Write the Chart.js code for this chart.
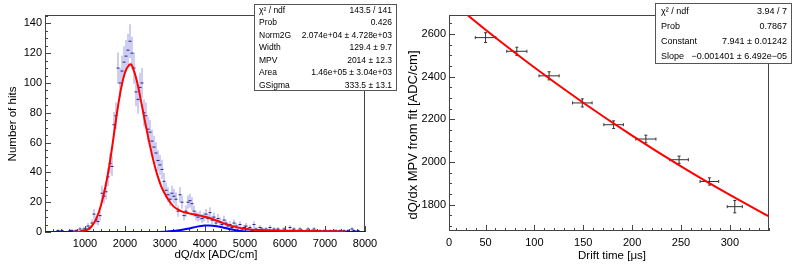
<!DOCTYPE html>
<html>
<head>
<meta charset="utf-8">
<script src="https://cdn.jsdelivr.net/npm/chart.js@4.4.1/dist/chart.umd.min.js"></script>
<style>
  html, body { margin: 0; padding: 0; background: #ffffff; }
  body { width: 805px; height: 267px; overflow: hidden; position: relative; }
  #cLeft  { position: absolute; left: 0;     top: 0; }
  #cRight { position: absolute; left: 400px; top: 0; }
</style>
</head>
<body>
<canvas id="cLeft"  width="400" height="267" style="width:400px;height:267px"></canvas>
<canvas id="cRight" width="405" height="267" style="width:405px;height:267px"></canvas>
<script>
// ================= LEFT PANEL DATA (dQ/dx histogram) =================
const binWidth = 50;          // ADC/cm per bin
const binStart = 0;           // first bin lower edge
const hitCounts = [
  0,0,0,0,0,0,1,0,1,0,
  0,0,1,1,0,1,0,2,1,2,
  2,4,3,6,12,8,7,11,26,24,
  27,37,46,44,72,78,110,100,108,114,
  118,122,128,120,110,94,89,97,100,80,
  78,69,67,61,57,53,48,45,42,34,
  28,25,22,26,24,22,14,25,20,11,
  14,20,21,19,14,11,10,11,9,10,
  12,9,13,8,10,6,9,7,5,8,
  6,4,5,3,6,4,3,5,2,3,
  4,2,3,1,5,2,1,3,2,1,
  2,1,3,1,2,1,2,1,0,2,
  1,0,3,1,2,0,1,2,1,0,
  1,2,0,1,2,1,0,1,0,1,
  1,0,1,0,1,1,0,1,0,1,
  0,1,0,2,1,0,1,0,0,0
];
// total fit (red)
const totalFitX = [700, 900, 1000, 1100, 1200, 1300, 1400, 1500, 1600, 1700, 1800, 1900, 2000, 2100, 2150, 2200, 2300, 2400, 2500, 2600, 2700, 2800, 2900, 3000, 3100, 3200, 3300, 3400, 3600, 3800, 4000, 4200, 4400, 4600, 4800, 5000, 5200, 5500, 6000, 6500, 7000, 7500];
const totalFitY = [0.1, 0.4, 1, 2, 5, 10, 18, 29, 43, 61, 80, 96, 107, 112, 112.5, 110, 101, 88, 74, 61, 49, 39, 31, 25.5, 21, 17.5, 15.5, 14, 12.5, 11.5, 10.2, 8.6, 6.5, 4.6, 3.1, 2.1, 1.5, 1.1, 0.8, 0.6, 0.5, 0.4];
// second gaussian component (blue)
const gausFitX = [0, 2600, 2800, 3000, 3200, 3400, 3600, 3800, 4000, 4100, 4200, 4400, 4600, 4800, 5000, 5200, 5400, 8000];
const gausFitY = [0, 0, 0.05, 0.2, 0.6, 1.3, 2.4, 3.6, 4.3, 4.4, 4.2, 3.3, 2.0, 1.0, 0.4, 0.1, 0, 0];
const xTicksLeft = [1000, 2000, 3000, 4000, 5000, 6000, 7000, 8000];
const yTicksLeft = [0, 20, 40, 60, 80, 100, 120, 140];
const statsLeftLabels = ['\u03C7\u00B2 / ndf', 'Prob', 'Norm2G', 'Width', 'MPV', 'Area', 'GSigma'];
const statsLeftValues = ['143.5 / 141', '0.426', '2.074e+04 \u00B1 4.728e+03', '129.4 \u00B1 9.7', '2014 \u00B1 12.3', '1.46e+05 \u00B1 3.04e+03', '333.5 \u00B1 13.1'];

// ================= RIGHT PANEL DATA (MPV vs drift time) =================
const driftTime    = [50, 82, 115, 149, 181, 214, 248, 279, 305];
const driftTimeErr = [10.5, 10.3, 10.3, 10, 10, 10.3, 9.5, 9.5, 7.7];
const mpvValue     = [2583, 2519, 2404, 2277, 2175, 2108, 2011, 1909, 1791];
const mpvErr       = [23, 19, 19, 19, 18, 18, 17, 17, 29];
const expoFitT = [20, 50, 100, 150, 200, 250, 300, 340];
const expoFitV = [2732, 2620, 2443, 2278, 2124, 1980, 1846, 1745];
const xTickValuesRight = [12.6, 50, 100, 150, 200, 250, 300];
const xTickLabelsRight = ['0', '50', '100', '150', '200', '250', '300'];
const yTicksRight = [1800, 2000, 2200, 2400, 2600];
const statsRightLabels = ['\u03C7\u00B2 / ndf', 'Prob', 'Constant', 'Slope'];
const statsRightValues = ['3.94 / 7', '0.7867', '7.941 \u00B1 0.01242', '\u22120.001401 \u00B1 6.492e\u221205'];

// ================= helpers =================
const FONT = '"Liberation Sans", Arial, Helvetica, sans-serif';

function framePlugin(cfg) {
  return {
    id: 'rootFrame',
    beforeDatasetsDraw(chart) {
      const { ctx, chartArea: a } = chart;
      const xs = chart.scales.x, ys = chart.scales.y;
      ctx.save();
      ctx.strokeStyle = cfg.color;
      ctx.lineWidth = 1;
      ctx.strokeRect(Math.round(a.left) + 0.5, Math.round(a.top) + 0.5,
                     Math.round(a.right - a.left) - 1, Math.round(a.bottom - a.top) - 1);
      ctx.beginPath();
      const isMajor = (v, m) => Math.abs(v / m - Math.round(v / m)) < 1e-6;
      for (let v = Math.ceil(xs.min / cfg.xMinor - 1e-9) * cfg.xMinor; v <= xs.max + 1e-9; v += cfg.xMinor) {
        const p = Math.round(xs.getPixelForValue(v)) + 0.5;
        const L = isMajor(v, cfg.xMajor) ? cfg.major : cfg.minor;
        ctx.moveTo(p, a.bottom); ctx.lineTo(p, a.bottom - L);
      }
      for (let v = Math.ceil(ys.min / cfg.yMinor - 1e-9) * cfg.yMinor; v <= ys.max + 1e-9; v += cfg.yMinor) {
        const p = Math.round(ys.getPixelForValue(v)) + 0.5;
        const L = isMajor(v, cfg.yMajor) ? cfg.major : cfg.minor;
        ctx.moveTo(a.left, p); ctx.lineTo(a.left + L, p);
      }
      ctx.stroke();
      ctx.restore();
    }
  };
}

function statsPlugin(cfg) {
  return {
    id: 'statsBox',
    afterDraw(chart) {
      const ctx = chart.ctx;
      ctx.save();
      ctx.fillStyle = '#ffffff';
      ctx.fillRect(cfg.x, cfg.y, cfg.w, cfg.h);
      ctx.strokeStyle = '#555555';
      ctx.lineWidth = 1;
      ctx.strokeRect(cfg.x + 0.5, cfg.y + 0.5, cfg.w - 1, cfg.h - 1);
      ctx.font = cfg.size + 'px ' + FONT;
      ctx.fillStyle = '#000000';
      ctx.textBaseline = 'middle';
      const rh = cfg.h / cfg.labels.length;
      cfg.labels.forEach((lab, i) => {
        const cy = cfg.y + rh * (i + 0.5) + 0.5;
        ctx.textAlign = 'left';
        ctx.fillText(lab, cfg.x + cfg.padL, cy);
        ctx.textAlign = 'right';
        ctx.fillText(cfg.values[i], cfg.x + cfg.w - cfg.padR, cy);
      });
      ctx.restore();
    }
  };
}

function titlesPlugin(list) {
  return {
    id: 'axisTitles',
    afterDraw(chart) {
      const ctx = chart.ctx;
      list.forEach(t => {
        ctx.save();
        ctx.font = t.size + 'px ' + FONT;
        ctx.fillStyle = '#000000';
        ctx.textAlign = 'center';
        ctx.textBaseline = 'middle';
        ctx.translate(t.x, t.y);
        if (t.rotate) ctx.rotate(-Math.PI / 2);
        ctx.fillText(t.text, 0, 0);
        ctx.restore();
      });
    }
  };
}

function segmentsVertical(xs, lo, hi) {
  const out = [];
  xs.forEach((x, i) => { out.push({ x: x, y: lo[i] }, { x: x, y: hi[i] }, { x: x, y: NaN }); });
  return out;
}
function segmentsHorizontal(ys, lo, hi) {
  const out = [];
  ys.forEach((y, i) => { out.push({ x: lo[i], y: y }, { x: hi[i], y: y }, { x: NaN, y: y }); });
  return out;
}

// ================= LEFT CHART =================
const binCenters = hitCounts.map((_, i) => binStart + binWidth * (i + 0.5));
const filledIdx = hitCounts.map((n, i) => i).filter(i => hitCounts[i] > 0);
const histX  = filledIdx.map(i => binCenters[i]);
const histLo = filledIdx.map(i => hitCounts[i] - Math.sqrt(hitCounts[i]));
const histHi = filledIdx.map(i => hitCounts[i] + Math.sqrt(hitCounts[i]));

new Chart(document.getElementById('cLeft'), {
  type: 'scatter',
  data: {
    datasets: [
      { label: 'total fit', data: totalFitX.map((x, i) => ({ x: x, y: totalFitY[i] })),
        showLine: true, borderColor: '#ff0000', borderWidth: 2, pointRadius: 0,
        cubicInterpolationMode: 'monotone', order: 0 },
      { label: 'gaussian', data: gausFitX.map((x, i) => ({ x: x, y: gausFitY[i] })),
        showLine: true, borderColor: '#0000ff', borderWidth: 2, pointRadius: 0,
        cubicInterpolationMode: 'monotone', order: 1 },
      { label: 'bin content', data: filledIdx.map(i => ({ x: binCenters[i], y: hitCounts[i] })),
        pointStyle: 'line', pointRadius: 1.5, borderColor: '#202090', borderWidth: 1, order: 2 },
      { label: 'errors', data: segmentsVertical(histX, histLo, histHi),
        showLine: true, spanGaps: false, borderColor: 'rgba(110,110,215,0.42)', borderWidth: 1.6,
        pointRadius: 0, order: 3 }
    ]
  },
  options: {
    responsive: false, animation: false, events: [],
    layout: { padding: { left: 0, top: 15, right: 35, bottom: 0 } },
    plugins: { legend: { display: false }, tooltip: { enabled: false } },
    scales: {
      x: { type: 'linear', min: 0, max: 8000,
           afterFit: s => { s.height = 35; },
           afterBuildTicks: s => { s.ticks = xTicksLeft.map(v => ({ value: v })); },
           grid: { display: false, drawTicks: false }, border: { display: false },
           ticks: { font: { size: 11, family: FONT }, color: '#000', padding: 5, autoSkip: false, maxRotation: 0,
                    callback: v => String(v) } },
      y: { type: 'linear', min: 0, max: 145.6,
           afterFit: s => { s.width = 45; },
           afterBuildTicks: s => { s.ticks = yTicksLeft.map(v => ({ value: v })); },
           grid: { display: false, drawTicks: false }, border: { display: false },
           ticks: { font: { size: 11, family: FONT }, color: '#000', padding: 3, autoSkip: false,
                    callback: v => String(v) } }
    }
  },
  plugins: [
    framePlugin({ color: '#444', xMajor: 1000, xMinor: 200, yMajor: 20, yMinor: 5, major: 6, minor: 3 }),
    statsPlugin({ x: 254, y: 4, w: 143, h: 87, size: 8.5, padL: 5, padR: 5,
                  labels: statsLeftLabels, values: statsLeftValues }),
    titlesPlugin([
      { text: 'dQ/dx [ADC/cm]', x: 216, y: 255, size: 11.5 },
      { text: 'Number of hits', x: 13, y: 124, size: 11.5, rotate: true }
    ])
  ]
});

// ================= RIGHT CHART =================
new Chart(document.getElementById('cRight'), {
  type: 'scatter',
  data: {
    datasets: [
      { label: 'expo fit', data: expoFitT.map((t, i) => ({ x: t, y: expoFitV[i] })),
        showLine: true, borderColor: '#ff0000', borderWidth: 2, pointRadius: 0,
        cubicInterpolationMode: 'monotone', order: 0 },
      { label: 'y errors', data: segmentsVertical(driftTime,
            mpvValue.map((v, i) => v - mpvErr[i]), mpvValue.map((v, i) => v + mpvErr[i])),
        showLine: true, spanGaps: false, borderColor: '#333', borderWidth: 1, pointRadius: 0, order: 1 },
      { label: 'x errors', data: segmentsHorizontal(mpvValue,
            driftTime.map((t, i) => t - driftTimeErr[i]), driftTime.map((t, i) => t + driftTimeErr[i])),
        showLine: true, spanGaps: false, borderColor: '#333', borderWidth: 1, pointRadius: 0, order: 1 },
      { label: 'y caps', data: driftTime.flatMap((t, i) => [{ x: t, y: mpvValue[i] - mpvErr[i] }, { x: t, y: mpvValue[i] + mpvErr[i] }]),
        pointStyle: 'line', pointRadius: 1.5, borderColor: '#333', borderWidth: 1, order: 2 },
      { label: 'x caps', data: driftTime.flatMap((t, i) => [{ x: t - driftTimeErr[i], y: mpvValue[i] }, { x: t + driftTimeErr[i], y: mpvValue[i] }]),
        pointStyle: 'line', rotation: 90, pointRadius: 1.5, borderColor: '#333', borderWidth: 1, order: 2 }
    ]
  },
  options: {
    responsive: false, animation: false, events: [],
    layout: { padding: { left: 0, top: 15, right: 36, bottom: 0 } },
    plugins: { legend: { display: false }, tooltip: { enabled: false } },
    scales: {
      x: { type: 'linear', min: 12.6, max: 340,
           afterFit: s => { s.height = 36; },
           afterBuildTicks: s => { s.ticks = xTickValuesRight.map(v => ({ value: v })); },
           grid: { display: false, drawTicks: false }, border: { display: false },
           ticks: { font: { size: 11, family: FONT }, color: '#000', padding: 5, autoSkip: false, maxRotation: 0,
                    callback: (v, i) => xTickLabelsRight[i] } },
      y: { type: 'linear', min: 1677, max: 2689,
           afterFit: s => { s.width = 49; },
           afterBuildTicks: s => { s.ticks = yTicksRight.map(v => ({ value: v })); },
           grid: { display: false, drawTicks: false }, border: { display: false },
           ticks: { font: { size: 11, family: FONT }, color: '#000', padding: 3, autoSkip: false,
                    callback: v => String(v) } }
    }
  },
  plugins: [
    framePlugin({ color: '#444', xMajor: 50, xMinor: 10, yMajor: 200, yMinor: 50, major: 6, minor: 3 }),
    statsPlugin({ x: 255, y: 3, w: 137, h: 61, size: 9, padL: 6, padR: 5,
                  labels: statsRightLabels, values: statsRightValues }),
    titlesPlugin([
      { text: 'Drift time [\u03BCs]', x: 212, y: 256, size: 11.5 },
      { text: 'dQ/dx MPV from fit [ADC/cm]', x: 13, y: 135, size: 13, rotate: true }
    ])
  ]
});
</script>
</body>
</html>
